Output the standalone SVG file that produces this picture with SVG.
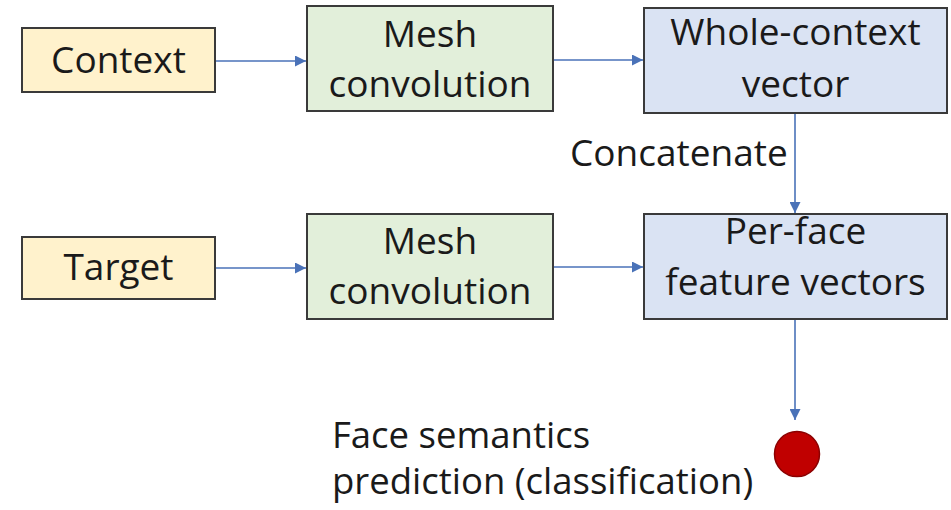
<svg xmlns="http://www.w3.org/2000/svg" width="951" height="510" viewBox="0 0 951 510">
<defs>
<style>
.box{stroke:#3a3a3a;stroke-width:2}
.in{fill:#fff2cc}
.mesh{fill:#e2efda}
.vec{fill:#dae3f3}
text{font-family:"Open Sans","Liberation Sans",sans-serif;font-size:37px;fill:#1a1a1a;text-anchor:middle}
.lbl{text-anchor:start}
.out{font-size:36.5px}
.con{stroke:#4a72b8;stroke-width:1.6;fill:none}
</style>
<marker id="ah" viewBox="0 0 10 10" refX="10" refY="5" markerWidth="11" markerHeight="11" markerUnits="userSpaceOnUse" orient="auto">
<path d="M0,0 L10,5 L0,10 z" fill="#4a72b8"/>
</marker>
</defs>
<rect width="951" height="510" fill="#ffffff"/>
<g id="connectors">
<line class="con" x1="216" y1="61" x2="306" y2="61" marker-end="url(#ah)"/>
<line class="con" x1="554" y1="60" x2="643" y2="60" marker-end="url(#ah)"/>
<line class="con" x1="795" y1="114" x2="795" y2="213" marker-end="url(#ah)"/>
<line class="con" x1="216" y1="268" x2="306" y2="268" marker-end="url(#ah)"/>
<line class="con" x1="554" y1="267" x2="643" y2="267" marker-end="url(#ah)"/>
<line class="con" x1="795" y1="320" x2="795" y2="420" marker-end="url(#ah)"/>
</g>
<g id="context">
<rect class="box in" x="22" y="28" width="193" height="64"/>
<text x="118.5" y="73">Context</text>
</g>
<g id="mesh1">
<rect class="box mesh" x="307" y="6" width="246" height="105"/>
<text x="430" y="47">Mesh</text>
<text x="430" y="97">convolution</text>
</g>
<g id="whole">
<rect class="box vec" x="644" y="8" width="303" height="105"/>
<text x="795.5" y="45">Whole-context</text>
<text x="795.5" y="97">vector</text>
</g>
<g id="concat-label">
<text class="lbl" x="570" y="166">Concatenate</text>
</g>
<g id="target">
<rect class="box in" x="22" y="237" width="193" height="62"/>
<text x="118.5" y="280">Target</text>
</g>
<g id="mesh2">
<rect class="box mesh" x="307" y="214" width="246" height="105"/>
<text x="430" y="254">Mesh</text>
<text x="430" y="304">convolution</text>
</g>
<g id="perface">
<rect class="box vec" x="644" y="214" width="303" height="105"/>
<text x="795.5" y="244">Per-face</text>
<text x="795.5" y="295">feature vectors</text>
</g>
<g id="output">
<circle cx="797" cy="454" r="22.5" fill="#c00000" stroke="#8b0000" stroke-width="1.5"/>
<text class="lbl out" x="332" y="448">Face semantics</text>
<text class="lbl out" x="332" y="494">prediction (classification)</text>
</g>
</svg>
